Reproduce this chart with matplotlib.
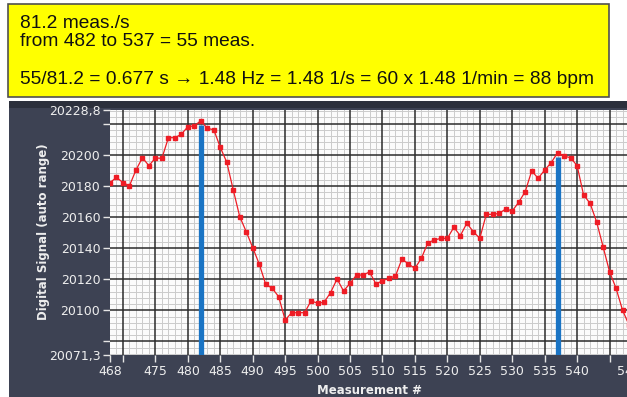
import matplotlib
matplotlib.use("Agg")
import matplotlib.pyplot as plt
from matplotlib.patches import Rectangle
from matplotlib.ticker import MultipleLocator
import numpy as np

#======== data ================
meas_start = 468
signal = [20182.1, 20185.5, 20182.1, 20180.1, 20190.2, 20198.1, 20193.0, 20198.0,
          20197.7, 20211.0, 20211.0, 20213.2, 20218.1, 20218.6, 20221.9, 20217.0,
          20216.1, 20204.8, 20195.2, 20177.4, 20160.2, 20150.6, 20140.3, 20129.8,
          20116.8, 20114.2, 20108.8, 20093.8, 20098.5, 20098.5, 20098.5, 20106.2,
          20104.5, 20105.2, 20111.4, 20120.2, 20112.4, 20117.4, 20122.7, 20122.7,
          20124.7, 20116.9, 20119.1, 20120.6, 20122.1, 20133.0, 20129.8, 20127.0,
          20133.5, 20143.5, 20145.2, 20146.3, 20146.3, 20153.4, 20148.0, 20156.0,
          20150.6, 20146.3, 20161.7, 20161.7, 20162.4, 20165.2, 20163.9, 20169.5,
          20176.3, 20189.6, 20184.9, 20190.2, 20194.9, 20201.4, 20199.2, 20198.1,
          20193.0, 20174.2, 20168.8, 20157.0, 20141.0, 20124.9, 20114.2, 20100.2,
          20090.6]
meas = np.arange(meas_start, meas_start + len(signal))

peaks = [482, 537]
y_min, y_max = 20071.3, 20228.8
x_min, x_max = 468, 548

xticks = [468, 470, 475, 480, 485, 490, 495, 500, 505, 510, 515, 520, 525, 530, 535, 540, 545, 548]
xlabels = ["468", "", "475", "480", "485", "490", "495", "500", "505", "510", "515",
           "520", "525", "530", "535", "540", "", "548"]
yticks = [20071.3, 20080, 20100, 20120, 20140, 20160, 20180, 20200, 20220, 20228.8]
ylabels = ["20071,3", "", "20100", "20120", "20140", "20160", "20180", "20200", "", "20228,8"]

# major grid every 5 measurements / 20 counts
x_major = np.arange(470, 548, 5)
y_major = np.arange(20080, 20229, 20)

note_lines = ["81.2 meas./s",
              "from 482 to 537 = 55 meas.",
              "55/81.2 = 0.677 s \u2192 1.48 Hz = 1.48 1/s = 60 x 1.48 1/min = 88 bpm"]

#======== figure ================
W, H = 627, 397
fig = plt.figure(figsize=(W / 100, H / 100), dpi=100)
fig.patch.set_facecolor("white")

def px(x0, y0, w, h):
    # pixel box (top-left origin) -> figure fraction
    return [x0 / W, 1 - (y0 + h) / H, w / W, h / H]

# dark panel behind the graph
b = px(9, 101, 630, 300)
fig.add_artist(Rectangle((b[0], b[1]), b[2], b[3], transform=fig.transFigure,
                         facecolor="#3d4253", edgecolor="none", zorder=0))
b = px(9, 101, 630, 7)
fig.add_artist(Rectangle((b[0], b[1]), b[2], b[3], transform=fig.transFigure,
                         facecolor="#2c303c", edgecolor="none", zorder=0))

# yellow note box
b = px(8, 4, 601, 93)
fig.add_artist(Rectangle((b[0], b[1]), b[2], b[3], transform=fig.transFigure,
                         facecolor="#ffff00", edgecolor="#505050", lw=1.2, zorder=1))
note_base = [28, 46.5, 83.5]
for txt, yy in zip(note_lines, note_base):
    fig.text(20 / W, 1 - yy / H, txt, ha="left", va="baseline", fontsize=13.8,
             family=["Liberation Sans", "DejaVu Sans"], color="#111111", zorder=2)

#======== graph ================
ax = fig.add_axes(px(110, 110, 519, 245))
ax.set_facecolor("#fbfbfb")
ax.set_xlim(x_min, x_max)
ax.set_ylim(y_min, y_max)

# fine grid below, heavy grid drawn on top of it
ax.xaxis.set_minor_locator(MultipleLocator(1))
ax.yaxis.set_minor_locator(MultipleLocator(4))
ax.grid(which="minor", color="#cbcbcb", lw=0.7)
ax.set_axisbelow(True)
for xv in x_major:
    ax.axvline(xv, color="#2b2b2b", lw=1.1, zorder=1)
for yv in y_major:
    ax.axhline(yv, color="#2b2b2b", lw=1.1, zorder=1)

ax.set_xticks(xticks)
ax.set_xticklabels(xlabels)
ax.set_yticks(yticks)
ax.set_yticklabels(ylabels)
ax.tick_params(which="major", colors="#e6e6e6", length=5, width=1, labelsize=9, pad=2)
ax.tick_params(which="minor", length=0)
for lbl in ax.get_xticklabels() + ax.get_yticklabels():
    lbl.set_color("#eeeeee")
for s in ax.spines.values():
    s.set_visible(False)

for p in peaks:
    ax.vlines(p, y_min, signal[p - meas_start] - 3, color="#1a74c4", lw=3.8, zorder=3)

ax.plot(meas, signal, color="#ee1c25", lw=0.9, marker="s", ms=2.4, zorder=4)

fig.text(43 / W, 1 - 232 / H, "Digital Signal (auto range)", rotation=90, ha="center",
         va="center", fontsize=8.5, fontweight="bold", color="#eeeeee")
fig.text(369 / W, 1 - 390 / H, "Measurement #", ha="center", va="center",
         fontsize=8.5, fontweight="bold", color="#eeeeee")

fig.savefig("out.png", dpi=100)
